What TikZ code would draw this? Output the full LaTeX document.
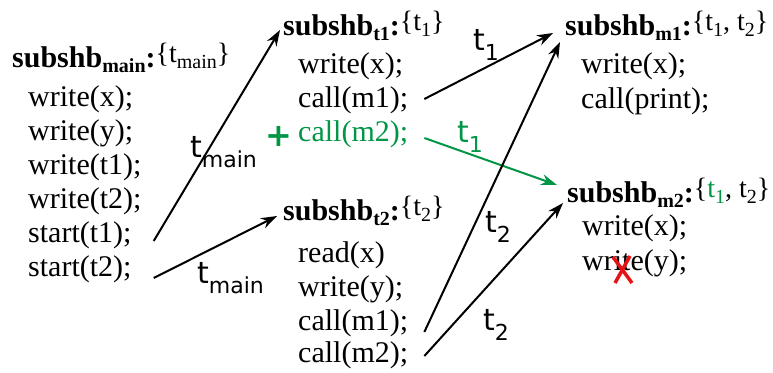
\documentclass[tikz,border=0pt]{standalone}
\usepackage{fontspec}
\setmainfont{Liberation Serif}
\newfontfamily\labelfont{DejaVu Sans}
\usetikzlibrary{arrows.meta}

\definecolor{addgreen}{RGB}{0,150,70}
\definecolor{delred}{RGB}{230,20,20}

% heads of the blocks
\newcommand{\sub}[1]{\raisebox{-6pt}{\fontsize{20}{20}\selectfont #1}}
\newcommand{\subshb}[2]{{\bfseries subshb\raisebox{-5pt}{\fontsize{20}{20}\selectfont #1}:}\raisebox{5pt}{\fontsize{28}{28}\selectfont\{#2\}}}
\newcommand{\thr}[1]{t\raisebox{-10pt}{\fontsize{22}{22}\selectfont #1}}

\begin{document}
\begin{tikzpicture}[
        x=1pt, y=1pt,
        code/.style={
            anchor=base west,
            inner sep=0pt,
            font=\fontsize{30}{34}\selectfont
        },
        flow/.style={
            -{Stealth[length=16pt,width=11pt]},
            line width=2pt
        },
        tlabel/.style={
            anchor=base west,
            inner sep=0pt,
            font=\labelfont\fontsize{30}{30}\selectfont
        }
    ]
    \useasboundingbox (0,0) rectangle (773,-372);

    % main
    \node[code] (main0) at (12,-67) {\subshb{main}{t\sub{main}}};
    \node[code] (main1) at (28,-106) {write(x);};
    \node[code] (main2) at (28,-140) {write(y);};
    \node[code] (main3) at (28,-174) {write(t1);};
    \node[code] (main4) at (28,-208) {write(t2);};
    \node[code] (main5) at (28,-242) {start(t1);};
    \node[code] (main6) at (28,-276) {start(t2);};

    % t1
    \node[code] (t1h) at (283,-35) {\subshb{t1}{t\sub{1}}};
    \node[code] (t1a) at (298,-73) {write(x);};
    \node[code] (t1b) at (298,-107) {call(m1);};
    \node[code, text=addgreen] (t1c) at (298,-141) {call(m2);};
    \node[font=\labelfont\bfseries\fontsize{32}{32}\selectfont, text=addgreen, inner sep=0pt] (plus) at (279,-136) {+};

    % t2
    \node[code] (t2h) at (283,-220) {\subshb{t2}{t\sub{2}}};
    \node[code] (t2a) at (298,-262) {read(x)};
    \node[code] (t2b) at (298,-296) {write(y);};
    \node[code] (t2c) at (298,-330) {call(m1);};
    \node[code] (t2d) at (298,-362) {call(m2);};

    % m1
    \node[code] (m1h) at (565,-35) {\subshb{m1}{t\sub{1}, t\sub{2}}};
    \node[code] (m1a) at (581,-73) {write(x);};
    \node[code] (m1b) at (581,-108) {call(print);};

    % m2
    \node[code] (m2h) at (567,-202) {\subshb{m2}{\textcolor{addgreen}{t\sub{1}}, t\sub{2}}};
    \node[code] (m2a) at (582,-235) {write(x);};
    \node[code] (m2b) at (582,-270) {write(y);};
    \draw[delred, line width=3.5pt]
        ([shift={(31,13)}]m2b.base west) -- ([shift={(50,-13)}]m2b.base west)
        ([shift={(48,14)}]m2b.base west) -- ([shift={(33,-13)}]m2b.base west);

    % arrows
    \draw[flow] ([shift={(22,1)}]main5.base east) -- ([shift={(-3,5)}]t1h.base west);
    \draw[flow] ([shift={(22,-2)}]main6.base east) -- ([shift={(-6,4)}]t2h.base west);
    \draw[flow] ([shift={(16,8)}]t1b.base east) -- ([shift={(-12,2)}]m1h.base west);
    \draw[flow, addgreen] ([shift={(16,3)}]t1c.base east) -- ([shift={(-10,17)}]m2h.base west);
    \draw[flow] ([shift={(16,-2)}]t2c.base east) -- ([shift={(-5,-7)}]m1h.base west);
    \draw[flow] ([shift={(16,6)}]t2d.base east) -- ([shift={(-4,-1)}]m2h.base west);

    % labels
    \node[tlabel] (l1) at (190,-157) {\thr{main}};
    \node[tlabel] (l2) at (197,-283) {\thr{main}};
    \node[tlabel] (l3) at (473,-50) {\thr{1}};
    \node[tlabel, text=addgreen] (l4) at (457,-142) {\thr{1}};
    \node[tlabel] (l5) at (485,-232) {\thr{2}};
    \node[tlabel] (l6) at (483,-330) {\thr{2}};

\end{tikzpicture}
\end{document}
